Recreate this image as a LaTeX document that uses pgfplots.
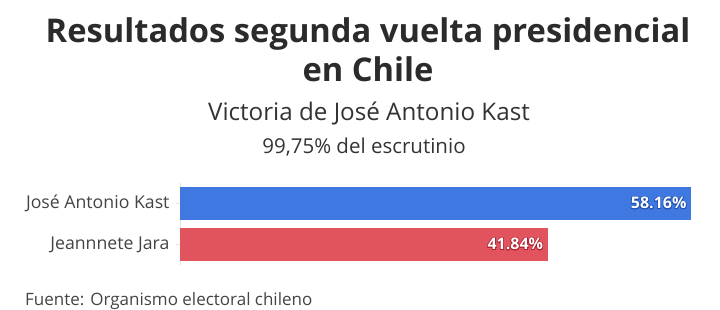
\documentclass[border=0pt]{standalone}
\usepackage{fontspec}
\setmainfont{Open Sans}
\usepackage[copies]{contour}
\contournumber{16}
\contourlength{0.6pt}
\usepackage{pgfplots}
\pgfplotsset{compat=1.18}
\definecolor{kast}{HTML}{3F78E1}
\definecolor{kastdark}{HTML}{1F4FB0}
\definecolor{jara}{HTML}{E1535D}
\definecolor{jaradark}{HTML}{B0202E}
\definecolor{titlecol}{HTML}{2B2B2B}
\definecolor{subcol}{HTML}{333333}
\definecolor{labcol}{HTML}{444444}
\definecolor{axcol}{HTML}{DDE3DD}
\begin{document}
\begin{tikzpicture}[x=1pt,y=1pt]
\path[use as bounding box] (0pt,0pt) rectangle (720pt,310pt);
\node[anchor=base, text=titlecol, font=\fontsize{32.7}{38}\selectfont\bfseries] at (368pt,267pt) {Resultados segunda vuelta presidencial};
\node[anchor=base, text=titlecol, font=\fontsize{32.7}{38}\selectfont\bfseries] at (368pt,228pt) {en Chile};
\node[anchor=base, text=subcol, font=\fontsize{24.2}{27}\selectfont] at (369pt,189pt) {Victoria de José Antonio Kast};
\node[anchor=base, text=subcol, font=\fontsize{20.5}{23}\selectfont] at (364pt,156pt) {99,75\% del escrutinio};
\node[anchor=base west, inner sep=0pt, text=labcol, font=\fontsize{17}{20}\selectfont] at (25pt,4pt) {Fuente: Organismo electoral chileno};
\begin{axis}[
  at={(180pt,45pt)}, anchor=south west,
  scale only axis, width=511pt, height=82pt,
  xmin=0, xmax=58.16, ymin=-0.5, ymax=1.5,
  xbar, bar width=33pt, bar shift=0pt,
  axis x line=none, axis y line*=left,
  y axis line style={draw=axcol, line width=0.8pt},
  ytick={0,1}, yticklabels={Jeannnete Jara, José Antonio Kast},
  major tick length=4pt, tick align=outside,
  ytick style={draw=axcol, line width=0.8pt},
  yticklabel style={text=labcol, font=\fontsize{17.7}{20}\selectfont, xshift=-3pt},
  point meta=x,
  /pgf/number format/assume math mode=true,
  nodes near coords style={anchor=east, text=white, font=\fontsize{16}{18}\selectfont\bfseries, xshift=-1pt},
  clip=false,
]
\addplot[fill=kast, draw=none, nodes near coords={\contour{kastdark}{\pgfmathprintnumber[fixed,precision=2,fixed zerofill]{\pgfplotspointmeta}\%}}] coordinates {(58.16,1)};
\addplot[fill=jara, draw=none, nodes near coords={\contour{jaradark}{\pgfmathprintnumber[fixed,precision=2,fixed zerofill]{\pgfplotspointmeta}\%}}] coordinates {(41.84,0)};
\end{axis}
\end{tikzpicture}
\end{document}
